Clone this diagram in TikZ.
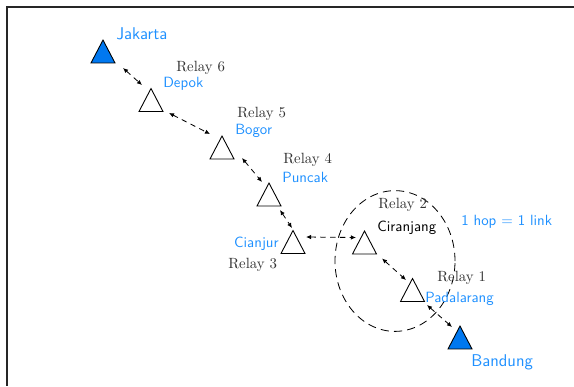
\documentclass[tikz,border=0pt]{standalone}
\usetikzlibrary{arrows.meta,calc,shapes.geometric}
\definecolor{cityblue}{RGB}{30,144,255}
\definecolor{endfill}{RGB}{0,120,240}
\definecolor{relaygray}{RGB}{50,50,50}
\tikzset{
  tri/.style={minimum width=16.2pt,minimum height=15.5pt,inner sep=0pt,outer sep=0pt},
  trishape/.style={draw=black,line width=0.6pt,line join=miter},
  link/.style={dash pattern=on 3.6pt off 3pt,line width=0.55pt,{Latex[length=3.4pt,width=3pt]}-{Latex[length=3.4pt,width=3pt]}},
  relay/.style={inner sep=0pt,text=relaygray,font=\rmfamily},
  city/.style={inner sep=0pt,text=cityblue,font=\sffamily},
  bigcity/.style={inner sep=0pt,text=cityblue,font=\sffamily\fontsize{11.5}{13}\selectfont},
}
\begin{document}
\begin{tikzpicture}[x=0.675pt,y=-0.675pt]
\useasboundingbox (0,0) rectangle (574,386);
% frame edges
\draw[line width=0.9pt,black!85] (574,7) -- (7,7) -- (7,386);

% stations
\node[tri] (jkt) at (103,51.5) {};
\node[tri] (r6) at (151,100) {};
\node[tri] (r5) at (222,147.5) {};
\node[tri] (r4) at (269,194.5) {};
\node[tri] (r3) at (293,242) {};
\node[tri] (r2) at (364.5,242.5) {};
\node[tri] (r1) at (412.5,290) {};
\node[tri] (bdg) at (460,337.5) {};

\foreach \n in {r6,r5,r4,r3,r2,r1}
  \draw[trishape] (\n.south west) -- (\n.north) -- (\n.south east) -- cycle;
\foreach \n in {jkt,bdg}
  \draw[trishape,fill=endfill] (\n.south west) -- (\n.north) -- (\n.south east) -- cycle;

% one-hop range
\node[draw,ellipse,dash pattern=on 5.5pt off 3.5pt,line width=0.55pt,
      minimum width=81pt,minimum height=95pt,inner sep=0pt] (hop) at (395,261) {};

% links
\draw[link] ($(jkt)+(20,16.5)$) -- ($(r6)+(-9,-15)$);
\draw[link] ($(r6)+(18,13)$) -- ($(r5)+(-12,-13.5)$);
\draw[link] ($(r5)+(20,10.5)$) -- ($(r4)+(-7,-12.5)$);
\draw[link] ($(r4)+(11,15.5)$) -- ($(r3)+(-1,-14)$);
\draw[link] ($(r3)+(13,-5)$) -- ($(r2)+(-8.5,-5)$);
\draw[link] ($(r2)+(17.5,16)$) -- ($(r1)+(-6.5,-10)$);
\draw[link] ($(r1)+(14.5,15)$) -- ($(bdg)+(-8,-10.5)$);

% labels
\node[bigcity,anchor=base west] (ljkt) at (116,39) {Jakarta};
\node[bigcity,anchor=base west] (lbdg) at (471,366) {Bandung};
\node[relay,anchor=base west] (l6) at (176,71) {Relay 6};
\node[city,anchor=base west] (c6) at (163,87) {Depok};
\node[relay,anchor=base west] (l5) at (237,117) {Relay 5};
\node[city,anchor=base west] (c5) at (235,134) {Bogor};
\node[relay,anchor=base west] (l4) at (283,163) {Relay 4};
\node[city,anchor=base west] (c4) at (282,182) {Puncak};
\node[relay,anchor=base west] (l2) at (378,208) {Relay 2};
\node[inner sep=0pt,font=\sffamily,anchor=base west] (c2) at (377,231) {Ciranjang};
\node[city,anchor=base east] (c3) at (279,247) {Cianjur};
\node[relay,anchor=base west] (l3) at (228,268) {Relay 3};
\node[relay,anchor=base west] (l1) at (437,281) {Relay 1};
\node[city,anchor=base west] (c1) at (425,302) {Padalarang};
\node[city,anchor=base west] (hoptext) at (461,225) {1 hop = 1 link};
\end{tikzpicture}
\end{document}
